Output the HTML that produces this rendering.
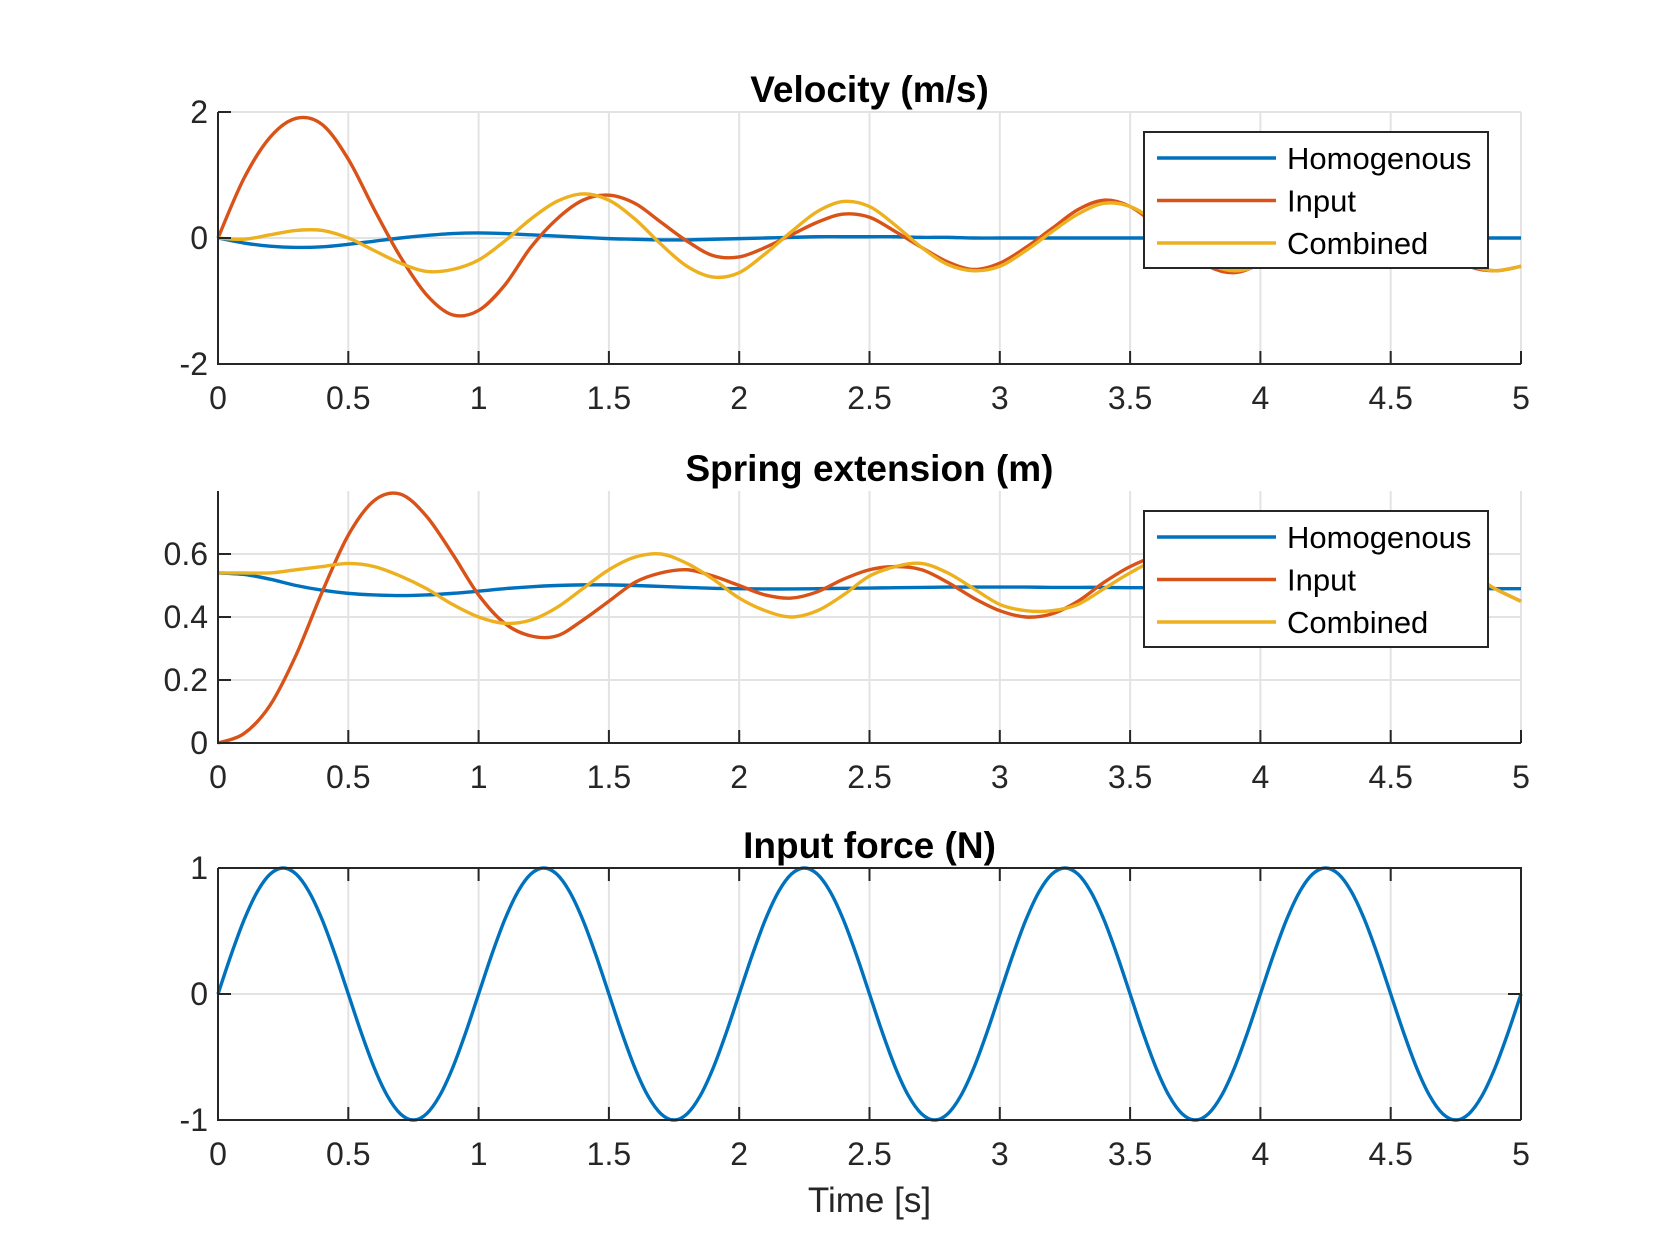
<!DOCTYPE html>
<html><head><meta charset="utf-8">
<style>
html,body{margin:0;padding:0;background:#fff;}
svg{display:block;font-family:"Liberation Sans",Arial,sans-serif;}
</style></head>
<body>
<svg id="chart" width="1680" height="1260" viewBox="0 0 1680 1260" xmlns="http://www.w3.org/2000/svg"></svg>
<script>
const time10 = [0,0.1,0.2,0.3,0.4,0.5,0.6,0.7,0.8,0.9,1.0,1.1,1.2,1.3,1.4,1.5,1.6,1.7,1.8,1.9,2.0,2.1,2.2,2.3,2.4,2.5,2.6,2.7,2.8,2.9,3.0,3.1,3.2,3.3,3.4,3.5,3.6,3.7,3.8,3.9,4.0,4.1,4.2,4.3,4.4,4.5,4.6,4.7,4.8,4.9,5.0];
const velHomog = [0,-0.08,-0.13,-0.15,-0.14,-0.1,-0.05,0,0.04,0.07,0.08,0.07,0.05,0.03,0.01,-0.01,-0.02,-0.03,-0.03,-0.02,-0.01,0,0.01,0.02,0.02,0.02,0.02,0.01,0.01,0,0,0,0,0,0,0,0,0,0,0,0,0,0,0,0,0,0,0,0,0,0];
const velInput = [0,0.95,1.6,1.9,1.8,1.25,0.45,-0.3,-0.9,-1.22,-1.15,-0.75,-0.15,0.3,0.6,0.68,0.55,0.25,-0.05,-0.28,-0.3,-0.15,0.05,0.25,0.38,0.33,0.1,-0.15,-0.38,-0.5,-0.4,-0.15,0.15,0.45,0.6,0.5,0.2,-0.15,-0.45,-0.55,-0.4,-0.1,0.25,0.5,0.55,0.4,0.1,-0.2,-0.45,-0.52,-0.45];
const velComb = [0,-0.02,0.05,0.12,0.12,0,-0.2,-0.4,-0.53,-0.5,-0.35,-0.05,0.3,0.58,0.7,0.6,0.3,-0.1,-0.45,-0.62,-0.55,-0.25,0.1,0.42,0.58,0.5,0.2,-0.15,-0.42,-0.52,-0.45,-0.2,0.1,0.38,0.55,0.5,0.25,-0.1,-0.4,-0.52,-0.42,-0.15,0.2,0.45,0.55,0.42,0.15,-0.15,-0.42,-0.52,-0.45];
const extHomog = [0.54,0.535,0.52,0.5,0.485,0.475,0.47,0.468,0.47,0.475,0.482,0.49,0.496,0.5,0.502,0.502,0.5,0.497,0.494,0.491,0.49,0.489,0.489,0.49,0.491,0.492,0.493,0.494,0.495,0.495,0.495,0.495,0.494,0.494,0.494,0.493,0.493,0.493,0.492,0.492,0.492,0.491,0.491,0.491,0.491,0.49,0.49,0.49,0.49,0.49,0.49];
const extInput = [0,0.03,0.12,0.28,0.48,0.66,0.77,0.79,0.72,0.6,0.47,0.38,0.34,0.34,0.39,0.45,0.51,0.54,0.55,0.53,0.5,0.47,0.46,0.48,0.52,0.55,0.56,0.55,0.51,0.46,0.42,0.4,0.41,0.45,0.51,0.56,0.59,0.58,0.54,0.48,0.43,0.4,0.41,0.45,0.51,0.56,0.59,0.58,0.54,0.49,0.45];
const extComb = [0.54,0.54,0.54,0.55,0.56,0.57,0.56,0.53,0.49,0.44,0.4,0.38,0.39,0.43,0.49,0.55,0.59,0.6,0.57,0.52,0.46,0.42,0.4,0.42,0.47,0.53,0.56,0.57,0.54,0.49,0.44,0.42,0.42,0.44,0.49,0.54,0.58,0.58,0.55,0.49,0.44,0.41,0.41,0.45,0.51,0.56,0.59,0.58,0.54,0.49,0.45];
const time05 = [0,0.05,0.1,0.15,0.2,0.25,0.3,0.35,0.4,0.45,0.5,0.55,0.6,0.65,0.7,0.75,0.8,0.85,0.9,0.95,1.0,1.05,1.1,1.15,1.2,1.25,1.3,1.35,1.4,1.45,1.5,1.55,1.6,1.65,1.7,1.75,1.8,1.85,1.9,1.95,2.0,2.05,2.1,2.15,2.2,2.25,2.3,2.35,2.4,2.45,2.5,2.55,2.6,2.65,2.7,2.75,2.8,2.85,2.9,2.95,3.0,3.05,3.1,3.15,3.2,3.25,3.3,3.35,3.4,3.45,3.5,3.55,3.6,3.65,3.7,3.75,3.8,3.85,3.9,3.95,4.0,4.05,4.1,4.15,4.2,4.25,4.3,4.35,4.4,4.45,4.5,4.55,4.6,4.65,4.7,4.75,4.8,4.85,4.9,4.95,5.0];
const forceVals = [0,0.309,0.588,0.809,0.951,1,0.951,0.809,0.588,0.309,0,-0.309,-0.588,-0.809,-0.951,-1,-0.951,-0.809,-0.588,-0.309,
0,0.309,0.588,0.809,0.951,1,0.951,0.809,0.588,0.309,0,-0.309,-0.588,-0.809,-0.951,-1,-0.951,-0.809,-0.588,-0.309,
0,0.309,0.588,0.809,0.951,1,0.951,0.809,0.588,0.309,0,-0.309,-0.588,-0.809,-0.951,-1,-0.951,-0.809,-0.588,-0.309,
0,0.309,0.588,0.809,0.951,1,0.951,0.809,0.588,0.309,0,-0.309,-0.588,-0.809,-0.951,-1,-0.951,-0.809,-0.588,-0.309,
0,0.309,0.588,0.809,0.951,1,0.951,0.809,0.588,0.309,0,-0.309,-0.588,-0.809,-0.951,-1,-0.951,-0.809,-0.588,-0.309,0];
const xTicks = [0,0.5,1,1.5,2,2.5,3,3.5,4,4.5,5];
const xTickLabels = ["0","0.5","1","1.5","2","2.5","3","3.5","4","4.5","5"];
const velTicks = [-2,0,2];
const extTicks = [0,0.2,0.4,0.6];
const extTickLabels = ["0","0.2","0.4","0.6"];
const forceTicks = [-1,0,1];
const legendNames = ["Homogenous","Input","Combined"];

const NS="http://www.w3.org/2000/svg";
const svg=document.getElementById('chart');
const C=["#0072BD","#D95319","#EDB120"];
const X0=218,X1=1521;
function el(tag,attrs,parent){const e=document.createElementNS(NS,tag);for(const k in attrs)e.setAttribute(k,attrs[k]);(parent||svg).appendChild(e);return e;}
function txt(s,attrs,parent){const e=el('text',attrs,parent);e.textContent=s;return e;}
function pathD(xs,ys,sx,sy){const p=xs.map((x,i)=>[sx(x),sy(ys[i])]);let d=`M${p[0][0]},${p[0][1]}`;
for(let i=0;i<p.length-1;i++){const a=p[Math.max(i-1,0)],b=p[i],c=p[i+1],e=p[Math.min(i+2,p.length-1)];
d+=` C${b[0]+(c[0]-a[0])/6},${b[1]+(c[1]-a[1])/6} ${c[0]-(e[0]-b[0])/6},${c[1]-(e[1]-b[1])/6} ${c[0]},${c[1]}`;}return d;}

function panel(o){
  const g=el('g',{});
  
  
  const sx=v=>X0+(v-0)/(5-0)*(X1-X0);
  const sy=v=>o.bot-(v-o.ymin)/(o.ymax-o.ymin)*(o.bot-o.top);
  xTicks.forEach(t=>{const l=el('line',{x1:sx(t),x2:sx(t),y1:o.top,y2:o.bot,stroke:'#e3e3e3','stroke-width':2},g);
    });
  o.yticks.forEach(t=>{const l=el('line',{x1:X0,x2:X1,y1:sy(t),y2:sy(t),stroke:'#e3e3e3','stroke-width':2},g);
    });
  o.series.forEach((s,i)=>{const p=el('path',{d:pathD(s.x,s.y,sx,sy),fill:'none',stroke:C[i],'stroke-width':3.4,'stroke-linejoin':'round'},g);
    });
  const ax=el('path',{d:`M${X0},${o.top} V${o.bot} H${X1}`,fill:'none',stroke:'#262626','stroke-width':2},g);
  
  if(o.box){const b=el('path',{d:`M${X0},${o.top} H${X1} V${o.bot}`,fill:'none',stroke:'#262626','stroke-width':2},g);
    }
  xTicks.forEach((t,i)=>{
    el('line',{x1:sx(t),x2:sx(t),y1:o.bot,y2:o.bot-13,stroke:'#262626','stroke-width':2},g);
    if(o.box) el('line',{x1:sx(t),x2:sx(t),y1:o.top,y2:o.top+13,stroke:'#262626','stroke-width':2},g);
    const tl=txt(xTickLabels[i],{x:sx(t),y:o.bot+45,'text-anchor':'middle','font-size':32,fill:'#262626'},g);
    
  });
  o.yticks.forEach((t,i)=>{
    el('line',{x1:X0,x2:X0+13,y1:sy(t),y2:sy(t),stroke:'#262626','stroke-width':2},g);
    if(o.box) el('line',{x1:X1,x2:X1-13,y1:sy(t),y2:sy(t),stroke:'#262626','stroke-width':2},g);
    const tl=txt(o.ylabels[i],{x:208,y:sy(t)+11,'text-anchor':'end','font-size':32,fill:'#262626'},g);
    
  });
  const ti=txt(o.title,{x:(X0+X1)/2,y:o.top-10,'text-anchor':'middle','font-size':37,'font-weight':'bold',fill:'#000'},g);
  
  if(o.legend){
    const lg=el('g',{},g);
    
    const ly=o.top+20;
    el('rect',{x:1144,y:ly,width:344,height:136,fill:'#fff',stroke:'#262626','stroke-width':2},lg);
    legendNames.forEach((n,i)=>{
      const yy=ly+26+i*42.5;
      const e=el('g',{},lg);
      
      el('line',{x1:1157,x2:1276,y1:yy,y2:yy,stroke:C[i],'stroke-width':3.4},e);
      txt(n,{x:1287,y:yy+11,'font-size':31,fill:'#000'},e);
    });
  }
  return g;
}

panel({name:'velocity-panel',top:112,bot:364,ymin:-2,ymax:2,yticks:velTicks,ylabels:["-2","0","2"],title:'Velocity (m/s)',legend:true,box:false,
  series:[{name:'velocity-homogenous-line',x:time10,y:velHomog},{name:'velocity-input-line',x:time10,y:velInput},{name:'velocity-combined-line',x:time10,y:velComb}]});
panel({name:'extension-panel',top:491,bot:743,ymin:0,ymax:0.8,yticks:extTicks,ylabels:extTickLabels,title:'Spring extension (m)',legend:true,box:false,
  series:[{name:'extension-homogenous-line',x:time10,y:extHomog},{name:'extension-input-line',x:time10,y:extInput},{name:'extension-combined-line',x:time10,y:extComb}]});
panel({name:'force-panel',top:868,bot:1120,ymin:-1,ymax:1,yticks:forceTicks,ylabels:["-1","0","1"],title:'Input force (N)',legend:false,box:true,
  series:[{name:'input-force-line',x:time05,y:forceVals}]});
const xl=txt('Time [s]',{x:(X0+X1)/2,y:1212,'text-anchor':'middle','font-size':35,fill:'#262626'});


</script>
</body></html>
